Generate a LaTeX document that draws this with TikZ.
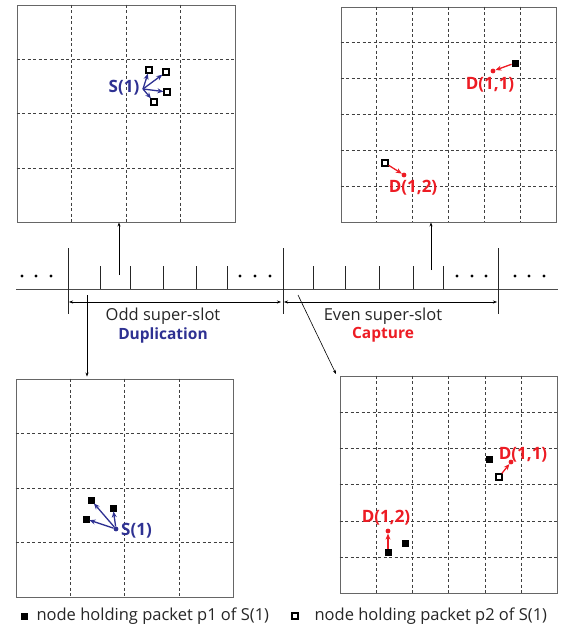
\documentclass[tikz,border=0pt]{standalone}
\usepackage{fontspec}
\setmainfont{Open Sans}
\usetikzlibrary{arrows.meta,calc}
\definecolor{dupblue}{HTML}{2E3192}
\definecolor{capred}{HTML}{ED1C24}
\tikzset{
  field/.style={draw=black!60, line width=0.9pt, inner sep=0pt},
  gridline/.style={black!75, line width=0.6pt, dash pattern=on 3pt off 2.5pt},
  pone/.style={fill=black, draw=black, minimum size=6.5pt, inner sep=0pt},
  ptwo/.style={fill=white, draw=black, line width=1.3pt, minimum size=6pt, inner sep=0pt},
  tag/.style={font=\fontsize{17}{17}\selectfont\bfseries, inner sep=0pt},
  dupto/.style={dupblue, line width=1.3pt, -{Stealth[length=6pt, width=5pt]}},
  capto/.style={capred, line width=1.3pt, -{Stealth[length=6pt, width=5pt]}},
  hit/.style={circle, fill, inner sep=1.7pt},
  >=Stealth
}

\begin{document}
\begin{tikzpicture}[x=1pt, y=-1pt, every node/.style={font=\fontsize{16.5}{16.5}\selectfont}]
  \useasboundingbox (0,0) rectangle (563,628);
  % the four fields
  \node[field, minimum width=218, minimum height=217] (tl) at (126,113.5) {};
  \node[field, minimum width=215, minimum height=215] (tr) at (448.5,114.5) {};
  \node[field, minimum width=217, minimum height=218] (bl) at (124.5,488) {};
  \node[field, minimum width=217, minimum height=217] (br) at (448.5,484.5) {};
  \foreach \f in {tl,bl} {
    \foreach \k in {1,2,3} {
      \draw[gridline] ($(\f.north west)!\k/4!(\f.north east)$) -- ($(\f.south west)!\k/4!(\f.south east)$);
      \draw[gridline] ($(\f.north west)!\k/4!(\f.south west)$) -- ($(\f.north east)!\k/4!(\f.south east)$);
    }
  }
  \foreach \f in {tr,br} {
    \foreach \k in {1,...,5} {
      \draw[gridline] ($(\f.north west)!\k/6!(\f.north east)$) -- ($(\f.south west)!\k/6!(\f.south east)$);
      \draw[gridline] ($(\f.north west)!\k/6!(\f.south west)$) -- ($(\f.north east)!\k/6!(\f.south east)$);
    }
  }
  % time line
  \coordinate (tstart) at (16,289);
  \coordinate (tend) at (558,289);
  \draw[black!70, line width=0.9pt] (tstart) -- (tend);
  \foreach \x in {68,283,498} \draw[black!85, line width=0.9pt] (\x,248) -- (\x,314);
  \foreach \x in {100,130,163,196,227,313,345,379,413,443}
    \draw[black!85, line width=0.9pt] (\x,266) -- (\x,289);
  \foreach \x in {22,36,51,240,255,270,457,472,486,515,529,544}
    \fill (\x,276) circle (1.6);
  % super-slots
  \coordinate (oddL) at (69,302);
  \coordinate (oddR) at (281,302);
  \coordinate (evenL) at (284,302);
  \coordinate (evenR) at (497,302);
  \draw[{Stealth[length=4pt]}-{Stealth[length=4pt]}, line width=0.5pt] (oddL) -- (oddR);
  \draw[{Stealth[length=4pt]}-{Stealth[length=4pt]}, line width=0.5pt] (evenL) -- (evenR);
  \node[text=black!85] (oddtxt) at (163,316) {Odd super-slot};
  \node[text=dupblue, font=\fontsize{15.5}{15.5}\selectfont\bfseries] (duptxt) at (163,335) {Duplication};
  \node[text=black!85] (eventxt) at (383,316) {Even super-slot};
  \node[text=capred, font=\fontsize{15.5}{15.5}\selectfont\bfseries] (captxt) at (383,335) {Capture};
  % links to the fields
  \coordinate (upodd) at (119,275);
  \coordinate (upeven) at (431,270);
  \coordinate (dnodd) at (87,295);
  \coordinate (dneven) at (298,295);
  \coordinate (brcorner) at (336,374);
  \draw[-{Stealth[length=4pt]}, line width=0.6pt] (upodd) -- (upodd |- tl.south);
  \draw[-{Stealth[length=4pt]}, line width=0.6pt] (upeven) -- (upeven |- tr.south);
  \draw[-{Stealth[length=4pt]}, line width=0.6pt] (dnodd) -- ($(dnodd |- bl.north)+(0,-2)$);
  \draw[-{Stealth[length=4pt]}, line width=0.6pt] (dneven) -- (brcorner);
  % odd slot: duplication of S(1)
  \node[tag, text=dupblue] (s1a) at (124,88) {S(1)};
  \coordinate (s1asrc) at (143,89);
  \node[ptwo] (qa1) at (149,70) {};
  \node[ptwo] (qa2) at (166,72) {};
  \node[ptwo] (qa3) at (167,92) {};
  \node[ptwo] (qa4) at (154,102) {};
  \foreach \q in {qa1,qa2,qa3,qa4} \draw[dupto] (s1asrc) -- (\q);
  % even slot: capture at D(1,1), D(1,2)
  \node[pone] (pa1) at (515,63) {};
  \node[hit, capred] (d11a) at (493,71) {};
  \node[tag, text=capred] (d11atxt) at (490,85) {D(1,1)};
  \node[ptwo] (qb1) at (385,163) {};
  \node[hit, capred] (d12a) at (404,175) {};
  \node[tag, text=capred] (d12atxt) at (413,188) {D(1,2)};
  \draw[capto] (pa1) -- (d11a);
  \draw[capto] (qb1) -- (d12a);
  % lower odd slot
  \node[pone] (pb1) at (91,500) {};
  \node[pone] (pb2) at (113,508) {};
  \node[pone] (pb3) at (86,519) {};
  \node[hit, dupblue] (s1b) at (116,529) {};
  \node[tag, text=dupblue, anchor=west] (s1btxt) at (121,531) {S(1)};
  \foreach \p in {pb1,pb2,pb3} \draw[dupto] (s1b) -- (\p);
  % lower even slot
  \node[pone] (pc1) at (489,459) {};
  \node[ptwo] (qc1) at (499,477) {};
  \node[hit, capred] (d11b) at (511,462) {};
  \node[tag, text=capred] (d11btxt) at (523,455) {D(1,1)};
  \node[pone] (pc2) at (388,552) {};
  \node[pone] (pc3) at (405,543) {};
  \node[hit, capred] (d12b) at (388,531) {};
  \node[tag, text=capred] (d12btxt) at (386,518) {D(1,2)};
  \draw[capto] (qc1) -- (d11b);
  \draw[capto] (pc2) -- (d12b);
  % legend
  \node[pone, minimum size=6pt] (keyone) at (24,616) {};
  \node[anchor=west, text=black!85] (keyonetxt) at (33,616) {node holding packet p1 of S(1)};
  \node[ptwo, minimum size=6pt, line width=1.1pt] (keytwo) at (295,616) {};
  \node[anchor=west, text=black!85] (keytwotxt) at (311,616) {node holding packet p2 of S(1)};
\end{tikzpicture}
\end{document}
